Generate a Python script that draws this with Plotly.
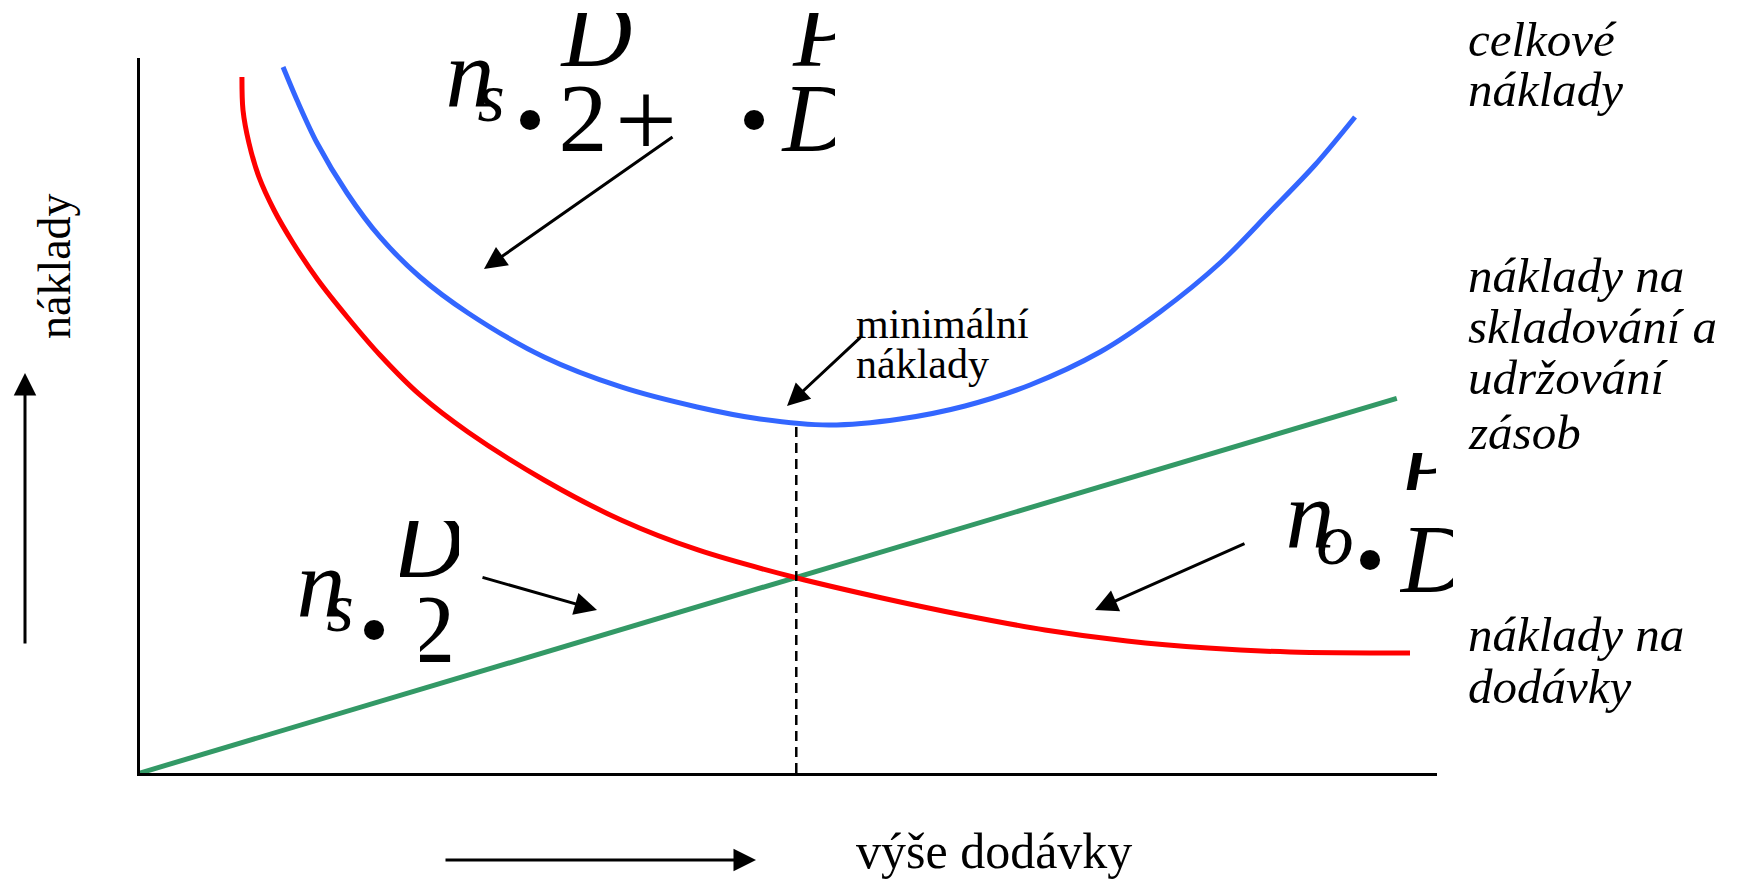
import plotly.graph_objects as go

# the page body keeps its default 8px margin, so the figure is drawn 8px in from the corner
PAGE_W, PAGE_H, EDGE = 1744, 881, 8
FW, FH = PAGE_W - 2 * EDGE, PAGE_H - EDGE
SERIF = "Liberation Serif, Times New Roman, serif"

# x = výše dodávky, y = náklady (both axes run 0..10)
dodavky_x = [0.786, 0.794, 0.840, 0.917, 1.033, 1.180, 1.372, 1.604, 1.850, 2.159, 2.529, 3.115,
             3.709, 4.302, 5.066, 5.721, 6.345, 6.978, 7.610, 8.234, 8.867, 9.792]
dodavky_y = [9.734, 9.273, 8.811, 8.336, 7.874, 7.413, 6.895, 6.364, 5.846, 5.287, 4.769, 4.098,
             3.538, 3.119, 2.727, 2.448, 2.210, 2.000, 1.846, 1.748, 1.692, 1.678]

celkove_x = [1.103, 1.210, 1.365, 1.596, 1.850, 2.159, 2.529, 3.115, 3.709, 4.295, 4.780, 5.312,
             5.860, 6.361, 6.862, 7.402, 7.864, 8.335, 8.712, 9.059, 9.368]
celkove_y = [9.874, 9.413, 8.811, 8.112, 7.497, 6.937, 6.434, 5.818, 5.399, 5.119, 4.951, 4.867,
             4.951, 5.133, 5.427, 5.888, 6.448, 7.147, 7.846, 8.503, 9.175]

skladovani_x = [0.0, 9.69]
skladovani_y = [0.0, 5.24]

optimum_x = 5.06

label_celkove = ["celkové", "náklady"]
label_skladovani = ["náklady na", "skladování a", "udržování", "zásob"]
label_dodavky = ["náklady na", "dodávky"]
label_minimum = ["minimální", "náklady"]
x_title = "výše dodávky"
y_title = "náklady"


def fx(p):
    return (p - EDGE) / FW


def fy(p):
    return 1 - (p - EDGE) / FH


fig = go.Figure()

fig.add_trace(go.Scatter(x=skladovani_x, y=skladovani_y, mode="lines",
                         line=dict(color="#339966", width=5)))
fig.add_trace(go.Scatter(x=dodavky_x, y=dodavky_y, mode="lines",
                         line=dict(color="#ff0000", width=5, shape="spline", smoothing=0.9)))
fig.add_trace(go.Scatter(x=celkove_x, y=celkove_y, mode="lines",
                         line=dict(color="#3366ff", width=5, shape="spline", smoothing=0.9)))
fig.add_trace(go.Scatter(x=[optimum_x, optimum_x], y=[0, min(celkove_y)], mode="lines",
                         line=dict(color="black", width=2.5, dash="10px,6px")))

# formula glyphs live on small hidden subplots so they can be cut off like in the picture
clip_axes = {}
FULL = (EDGE, EDGE, PAGE_W - EDGE, PAGE_H)


def glyph_at(text, cx, cy, size, italic=True, clip=FULL):
    if clip not in clip_axes:
        k = len(clip_axes) + 2
        clip_axes[clip] = k
        x0, y0, x1, y1 = clip
        fig.update_layout({
            f"xaxis{k}": dict(domain=[fx(x0), fx(x1)], range=[x0, x1], visible=False, fixedrange=True),
            f"yaxis{k}": dict(domain=[fy(y1), fy(y0)], range=[y1, y0], visible=False, fixedrange=True),
        })
    k = clip_axes[clip]
    fig.add_trace(go.Scatter(
        x=[cx], y=[cy], mode="text", text=[text],
        textposition="middle center", cliponaxis=True,
        xaxis=f"x{k}", yaxis=f"y{k}", hoverinfo="skip",
        textfont=dict(family=SERIF, size=size, color="black",
                      style="italic" if italic else "normal")))


def glyph(text, cx, base, size, italic=True, clip=FULL):
    glyph_at(text, cx, base - 0.26 * size, size, italic, clip)


def dot(cx, cy):
    glyph_at("·", cx, cy + 13, 170, italic=False)


# n_s . D/2 + . P/D  (top)
glyph("n", 470, 107, 98)
glyph("s", 491, 122, 70)
dot(530, 120)
glyph("D", 597, 67, 98, clip=(540, 13, 660, 90))
glyph("2", 583, 152, 98, italic=False)
glyph_at("+", 646, 129, 110, italic=False)
dot(754, 120)
glyph("P", 823, 67, 98, clip=(780, 13, 835, 90))
glyph("D", 818, 152, 98, clip=(780, 80, 835, 170))

# n_s . D/2  (left)
glyph("n", 321, 617, 98)
glyph("s", 340, 632, 70)
dot(374, 630)
glyph("D", 428, 578, 98, clip=(400, 521, 459, 585))
glyph("2", 431, 663, 98, italic=False, clip=(420, 585, 459, 680))

# n_o . P/D  (right)
glyph("n", 1310, 548, 98)
glyph("o", 1335, 565, 75)
dot(1370, 560)
glyph("P", 1428, 500, 98, clip=(1390, 453, 1436, 490))
glyph("D", 1436, 593, 98, clip=(1400, 515, 1453, 610))

annotations = []


def label(text, x_left, base, size, italic=False):
    annotations.append(dict(
        text=text, x=fx(x_left), y=fy(base - 0.34 * size), xref="paper", yref="paper",
        xanchor="left", yanchor="middle", showarrow=False,
        font=dict(family=SERIF, size=size, color="black", style="italic" if italic else "normal")))


def arrow(tail, tip):
    annotations.append(dict(
        text="", x=fx(tip[0]), y=fy(tip[1]), xref="paper", yref="paper",
        ax=tail[0] - tip[0], ay=tail[1] - tip[1], axref="pixel", ayref="pixel",
        showarrow=True, arrowhead=2, arrowsize=1.5, arrowwidth=3, arrowcolor="black",
        standoff=0, startstandoff=0))


for line, base in zip(label_celkove, [56, 106]):
    label(line, 1466, base, 49, italic=True)
for line, base in zip(label_skladovani, [292, 343, 394, 449]):
    label(line, 1466, base, 49, italic=True)
for line, base in zip(label_dodavky, [651, 703]):
    label(line, 1466, base, 49, italic=True)
for line, base in zip(label_minimum, [338, 378]):
    label(line, 854, base, 42)
label(x_title, 854, 868, 50)

annotations.append(dict(
    text=y_title, x=fx(54), y=fy(266), xref="paper", yref="paper", textangle=-90,
    xanchor="center", yanchor="middle", showarrow=False,
    font=dict(family=SERIF, size=46, color="black")))

arrow((674, 136), (484, 269))
arrow((862, 336), (787, 406))
arrow((481, 577), (597, 610))
arrow((1246, 543), (1095, 610))
arrow((25, 645), (25, 373))
arrow((444, 860), (756, 860))

fig.update_layout(
    width=FW, height=FH,
    margin=dict(l=0, r=0, t=0, b=0),
    paper_bgcolor="white", plot_bgcolor="rgba(0,0,0,0)",
    showlegend=False, hovermode=False,
    annotations=annotations,
    xaxis=dict(domain=[fx(140), fx(1437)], range=[0, 10], showline=True, linecolor="black",
               linewidth=2.5, showgrid=False, zeroline=False, showticklabels=False, ticks="",
               fixedrange=True),
    yaxis=dict(domain=[fy(773), fy(58)], range=[0, 10], showline=True, linecolor="black",
               linewidth=2.5, showgrid=False, zeroline=False, showticklabels=False, ticks="",
               fixedrange=True),
)

fig.write_html("out.html")
